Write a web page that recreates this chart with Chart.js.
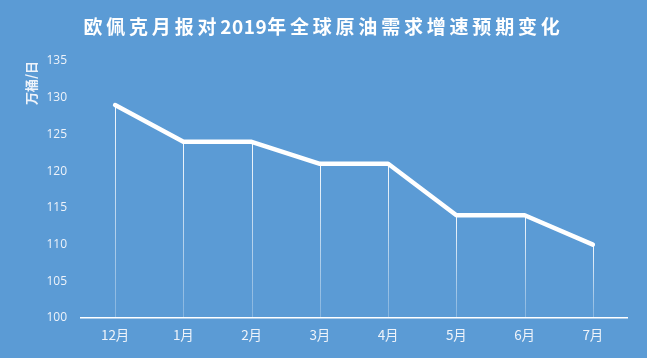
<!DOCTYPE html>
<html><head><meta charset="utf-8">
<script src="https://cdn.jsdelivr.net/npm/chart.js@4.4.1/dist/chart.umd.min.js"></script>
<style>
html,body{margin:0;padding:0;background:#5B9BD5;}
#wrap{position:relative;width:647px;height:358px;background:#5B9BD5;}
#title{position:absolute;left:0;top:11px;width:647px;text-align:center;color:#fff;font:bold 19px "Noto Sans CJK SC",sans-serif;letter-spacing:3.8px;line-height:30px;}
#title span{letter-spacing:0.5px;}
canvas{position:absolute;left:0;top:0;}
</style></head>
<body><div id="wrap"><canvas id="c" width="647" height="358"></canvas><div id="title">欧佩克月报对<span>2019</span>年全球原油需求增速预期变化</div></div>
<script>
const categories = ["12月","1月","2月","3月","4月","5月","6月","7月"];
const demandGrowth = [129,124,124,121,121,114,114,110];
const yTicks = [100,105,110,115,120,125,130,135];
const unitLabel = "万桶/日";

const dropLines = {
  id:'dropLines',
  beforeDatasetsDraw(chart){
    const ctx = chart.ctx, meta = chart.getDatasetMeta(0), y = chart.scales.y;
    const base = y.getPixelForValue(yTicks[0]);
    ctx.save();
    meta.data.forEach(p=>{
      const g = ctx.createLinearGradient(0,p.y,0,base);
      g.addColorStop(0,'rgba(255,255,255,0.95)');
      g.addColorStop(1,'rgba(255,255,255,0.25)');
      ctx.strokeStyle = g; ctx.lineWidth = 1;
      ctx.beginPath(); ctx.moveTo(Math.round(p.x)+0.5,p.y); ctx.lineTo(Math.round(p.x)+0.5,base); ctx.stroke();
    });
    ctx.restore();
  }
};

new Chart(document.getElementById('c'),{
  type:'line',
  data:{labels:categories,datasets:[{data:demandGrowth,borderColor:'#ffffff',borderWidth:4.5,pointRadius:0,tension:0,fill:false,borderJoinStyle:'round',borderCapStyle:'round'}]},
  options:{
    responsive:false,animation:false,
    layout:{padding:{left:0,right:20,top:61,bottom:0}},
    plugins:{legend:{display:false},tooltip:{enabled:false},title:{display:false}},
    scales:{
      x:{
        offset:true,
        grid:{display:false,drawTicks:false},
        border:{display:true,color:'#ffffff',width:1.5},
        ticks:{color:'#eef3fa',font:{family:'"Noto Sans CJK SC",sans-serif',size:13.5},padding:9,maxRotation:0},
        afterFit(s){s.height=40;}
      },
      y:{
        min:100,max:135,
        afterBuildTicks(s){s.ticks=yTicks.map(v=>({value:v}));},
        grid:{display:false,drawTicks:false},
        border:{display:false},
        ticks:{color:'#eef3fa',font:{family:'"Open Sans",sans-serif',size:12},padding:14},
        title:{display:true,text:unitLabel,align:'end',color:'#eef3fa',font:{family:'"Noto Sans CJK SC",sans-serif',size:13,weight:'bold'},padding:{top:23,bottom:0}},
        afterFit(s){s.width=81;}
      }
    }
  },
  plugins:[dropLines]
});
</script></body></html>
